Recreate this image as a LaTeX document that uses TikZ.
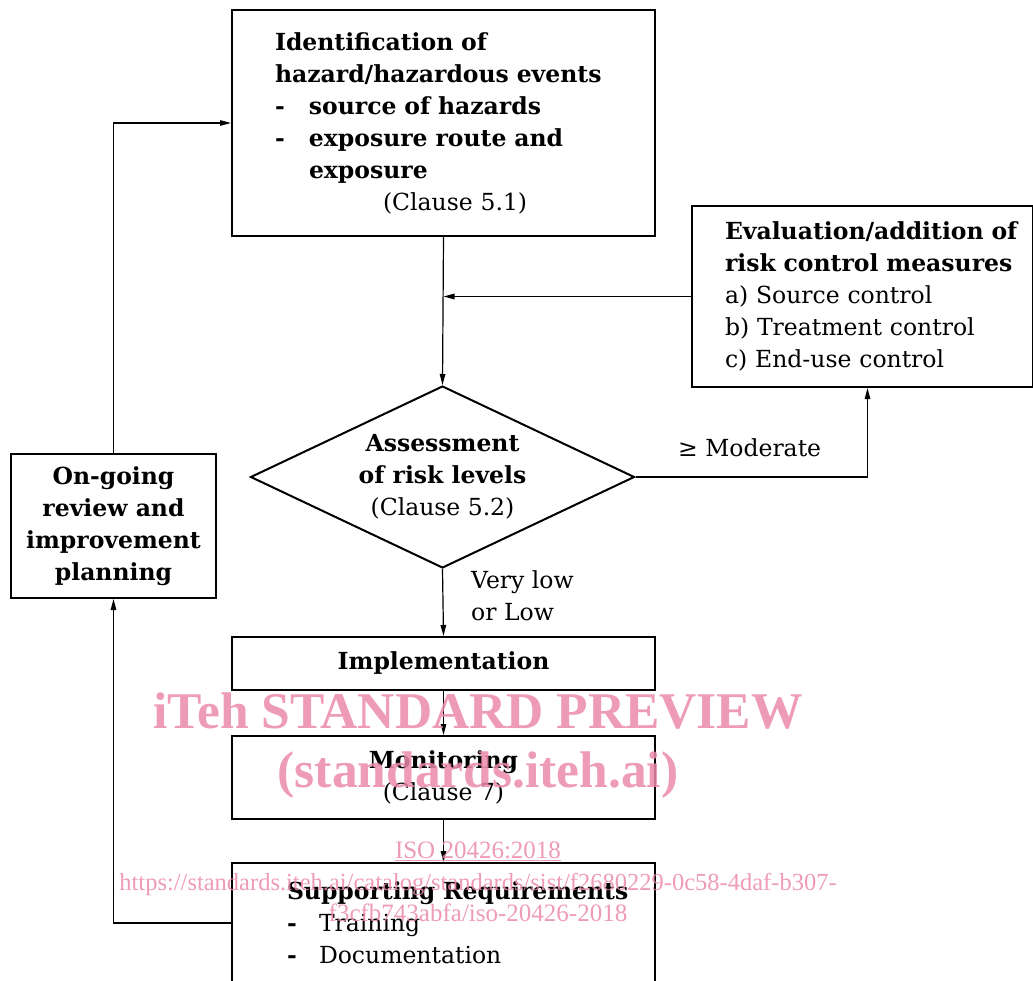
\documentclass[tikz,border=0pt]{standalone}
\usepackage{fontspec}
\setmainfont{DejaVu Serif}
\newfontfamily\wmfont{Liberation Serif}
\usepackage{tikz}
\usetikzlibrary{positioning,arrows.meta,shapes.geometric}
\definecolor{wmpink}{RGB}{235,137,170}

\begin{document}
\begin{tikzpicture}[
  x=1pt, y=-1pt,
  font=\fontsize{23.5}{32}\selectfont,
  box/.style={draw, line width=2pt, anchor=north west, inner sep=0pt},
  decide/.style={draw, line width=2pt, diamond, aspect=2.11, inner sep=0pt,
    minimum width=384pt, minimum height=182pt, align=center},
  arr/.style={line width=1.2pt, -{Triangle[length=11pt,width=5.5pt]}},
  wm/.style={text=wmpink, opacity=0.85, anchor=base, inner sep=0pt}
]
% Page frame (reference is cut off at the bottom and right)
\useasboundingbox (0,0) rectangle (1033,981);
\clip (0,0) rectangle (1033,981);

% Column x-positions
\def\cL{10}
\def\cM{231}
\def\cR{691}

% Identification (top box)
\node[box, minimum width=423pt, minimum height=226pt, text width=423pt, align=left] (ident) at (\cM,9) {
  \leftskip=43pt
  \textbf{Identification of}\\
  \textbf{hazard/hazardous events}\\
  \makebox[34pt][l]{\textbf{-}}\textbf{source of hazards}\\
  \makebox[34pt][l]{\textbf{-}}\textbf{exposure route and}\\
  \hspace*{34pt}\textbf{exposure}\\
  \hspace*{108pt}(Clause 5.1)\par
};

% Evaluation of control measures (right box)
\node[box, minimum width=341pt, minimum height=181pt, text width=341pt, align=left] (eval) at (\cR,205) {
  \leftskip=33pt
  \textbf{Evaluation/addition of}\\
  \textbf{risk control measures}\\
  a) Source control\\
  b) Treatment control\\
  c) End-use control\par
};

% Assessment (diamond)
\node[decide] (assess) at (442.5,477) {
  \textbf{Assessment}\\
  \textbf{of risk levels}\\
  (Clause 5.2)
};

% On-going review (left box)
\node[box, minimum width=205pt, minimum height=144pt, align=center] (review) at (\cL,453) {
  \textbf{On-going}\\
  \textbf{review and}\\
  \textbf{improvement}\\
  \textbf{planning}
};

% Implementation / Monitoring / Supporting (centre column)
\node[box, minimum width=423pt, minimum height=53pt] (impl) at (\cM,636) {\textbf{Implementation}};
\node[box, minimum width=423pt, minimum height=83pt, align=center] (monit) at (\cM,735) {
  \textbf{Monitoring}\\
  (Clause 7)
};
\node[box, minimum width=423pt, minimum height=120pt, text width=423pt, align=left] (supp) at (\cM,862) {
  \leftskip=55pt
  \textbf{Supporting Requirements}\\
  \makebox[32pt][l]{\textbf{-}}Training\\
  \makebox[32pt][l]{\textbf{-}}Documentation\par
};

% Connectors
\draw[arr] (ident.south) -- (assess.north);
\draw[arr] (eval.west) -- (eval.west -| ident.south);
\draw[arr] (assess.east) -| ([xshift=5pt]eval.south);
\draw[arr] (assess.south) -- (impl.north);
\draw[arr] (impl.south) -- (monit.north);
\draw[arr] (monit.south) -- (supp.north);
\draw[arr] (supp.west) -| (review.south);
\draw[arr] (review.north) |- (ident.west);

% Branch labels
\node[anchor=base west, inner sep=0pt] (lblmod) at (678,456) {≥ Moderate};
\node[anchor=north west, inner sep=0pt, align=left] (lbllow) at (471,570) {Very low\\or Low};

% Watermark
\node[wm, font=\wmfont\bfseries\fontsize{51.5}{51.5}\selectfont] (wmA) at (478,728) {iTeh STANDARD PREVIEW};
\node[wm, font=\wmfont\bfseries\fontsize{51.5}{51.5}\selectfont] (wmB) at (478,787) {(standards.iteh.ai)};
\node[wm, font=\wmfont\fontsize{25}{25}\selectfont] (wmC) at (478,858) {\underline{ISO 20426:2018}};
\node[wm, font=\wmfont\fontsize{24.5}{24.5}\selectfont] (wmD) at (478,890) {https://standards.iteh.ai/catalog/standards/sist/f2680229-0c58-4daf-b307-};
\node[wm, font=\wmfont\fontsize{25}{25}\selectfont] (wmE) at (478,921) {f3cfb743abfa/iso-20426-2018};

\end{tikzpicture}
\end{document}
